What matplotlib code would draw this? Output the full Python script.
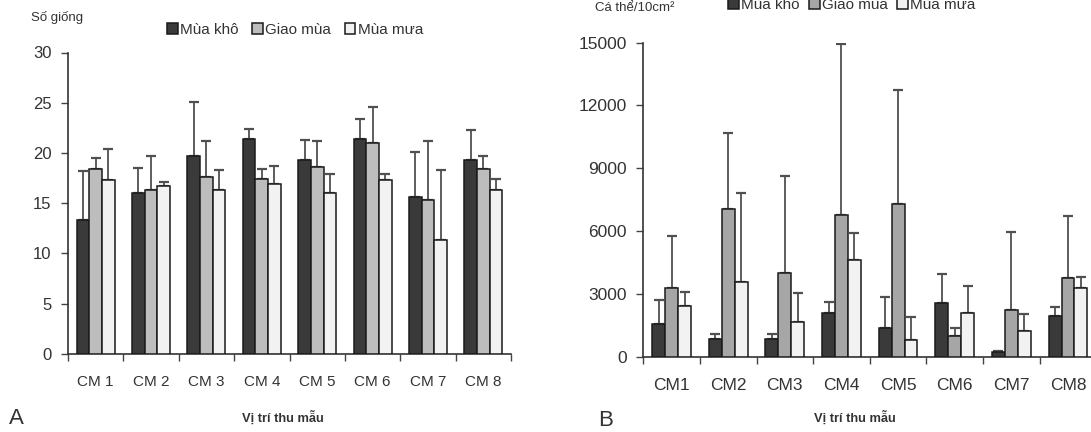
import numpy as np
import matplotlib
matplotlib.use("Agg")
import matplotlib.pyplot as plt

plt.rcParams['font.family'] = ['Liberation Sans', 'DejaVu Sans']

# ---- data ----
sites_a = ["CM 1", "CM 2", "CM 3", "CM 4", "CM 5", "CM 6", "CM 7", "CM 8"]
sites_b = ["CM1", "CM2", "CM3", "CM4", "CM5", "CM6", "CM7", "CM8"]
seasons = ["Mùa khô", "Giao mùa", "Mùa mưa"]

# A: number of genera (mean, upper error end)
kho_a = [13.3, 16.0, 19.7, 21.4, 19.3, 21.4, 15.6, 19.3]
kho_a_top = [18.2, 18.5, 25.1, 22.4, 21.3, 23.4, 20.1, 22.3]
giao_a = [18.4, 16.3, 17.6, 17.4, 18.6, 21.0, 15.3, 18.4]
giao_a_top = [19.5, 19.7, 21.2, 18.4, 21.2, 24.6, 21.2, 19.7]
mua_a = [17.3, 16.7, 16.3, 16.9, 16.0, 17.3, 11.3, 16.3]
mua_a_top = [20.4, 17.1, 18.3, 18.7, 17.9, 17.9, 18.3, 17.4]

# B: density, individuals / 10 cm2
kho_b = [1560, 845, 845, 2110, 1360, 2570, 240, 1930]
kho_b_top = [2690, 1070, 1070, 2620, 2870, 3960, 290, 2390]
giao_b = [3300, 7070, 4000, 6750, 7290, 1005, 2250, 3750]
giao_b_top = [5750, 10690, 8650, 14940, 12740, 1390, 5970, 6700]
mua_b = [2440, 3550, 1670, 4630, 800, 2110, 1245, 3300]
mua_b_top = [3100, 7800, 3060, 5900, 1880, 3370, 2060, 3810]

W, H = 1091, 432
fig = plt.figure(figsize=(W / 100, H / 100), dpi=100)
txt = '#333333'
errc = '#505050'


def panel(rect, sites, series, tops, colors, ylim, yticks, xfs, yfs):
    ax = fig.add_axes(rect)
    x = np.arange(len(sites))
    bw = 0.228
    for k, (vals, top, col) in enumerate(zip(series, tops, colors)):
        xs = x + (k - 1) * bw
        vals = np.array(vals, float)
        top = np.array(top, float)
        ax.errorbar(xs, vals, yerr=[np.zeros_like(vals), top - vals], fmt='none',
                    ecolor=errc, elinewidth=1.3, capsize=3.5, capthick=1.6, zorder=2)
        ax.bar(xs, vals, width=bw, color=col, edgecolor='#1a1a1a', linewidth=1.1,
               label=seasons[k], zorder=3)
    ax.set_xlim(-0.5, len(sites) - 0.5)
    ax.set_ylim(*ylim)
    ax.set_yticks(yticks)
    ax.set_xticks(np.arange(-0.5, len(sites), 1))
    ax.set_xticklabels([])
    ax.set_xticks(x, minor=True)
    ax.set_xticklabels(sites, minor=True)
    ax.tick_params(axis='x', which='major', direction='out', length=5, width=1, color='#444444')
    ax.tick_params(axis='x', which='minor', length=0, pad=15, labelsize=xfs, labelcolor=txt)
    ax.tick_params(axis='y', direction='out', length=5, width=1, labelsize=yfs, labelcolor=txt,
                   color='#444444', pad=7)
    for s in ['top', 'right']:
        ax.spines[s].set_visible(False)
    for s in ['left', 'bottom']:
        ax.spines[s].set_linewidth(1.2)
        ax.spines[s].set_color('#333333')
    return ax


axA = panel([68 / W, 1 - 353.7 / H, 443 / W, 301.2 / H], sites_a,
            [kho_a, giao_a, mua_a], [kho_a_top, giao_a_top, mua_a_top],
            ['#3a3a3a', '#bdbdbd', '#f2f2f2'], (0, 30), [0, 5, 10, 15, 20, 25, 30], 11, 12)
axB = panel([643.3 / W, 1 - 356.7 / H, 453 / W, 314 / H], sites_b,
            [kho_b, giao_b, mua_b], [kho_b_top, giao_b_top, mua_b_top],
            ['#3a3a3a', '#a6a6a6', '#f2f2f2'], (0, 15000),
            [0, 3000, 6000, 9000, 12000, 15000], 12.5, 12.5)

legkw = dict(ncol=3, frameon=False, handlelength=0.7, handleheight=0.7,
             handletextpad=0.15, labelcolor=txt)
axA.legend(loc='center', bbox_to_anchor=(295 / W, 1 - 30 / H),
           bbox_transform=fig.transFigure, fontsize=11, columnspacing=0.9, **legkw)
axB.legend(loc='center', bbox_to_anchor=(852 / W, 1 - 5 / H),
           bbox_transform=fig.transFigure, fontsize=11, columnspacing=0.6, **legkw)

fig.text(31 / W, 1 - 17 / H, "Số giống", fontsize=9.5, color=txt, va='center')
fig.text(595 / W, 1 - 8 / H, "Cá thể/10cm²", fontsize=9.5, color=txt, va='center')
fig.text(283 / W, 1 - 418 / H, "Vị trí thu mẫu", fontsize=9.3, color=txt,
         ha='center', va='center', fontweight='bold')
fig.text(855 / W, 1 - 418 / H, "Vị trí thu mẫu", fontsize=9.3, color=txt,
         ha='center', va='center', fontweight='bold')
fig.text(9 / W, 1 - 419 / H, "A", fontsize=16, color=txt, va='center')
fig.text(598 / W, 1 - 421 / H, "B", fontsize=16, color=txt, va='center')

fig.savefig("out.png", dpi=100)
